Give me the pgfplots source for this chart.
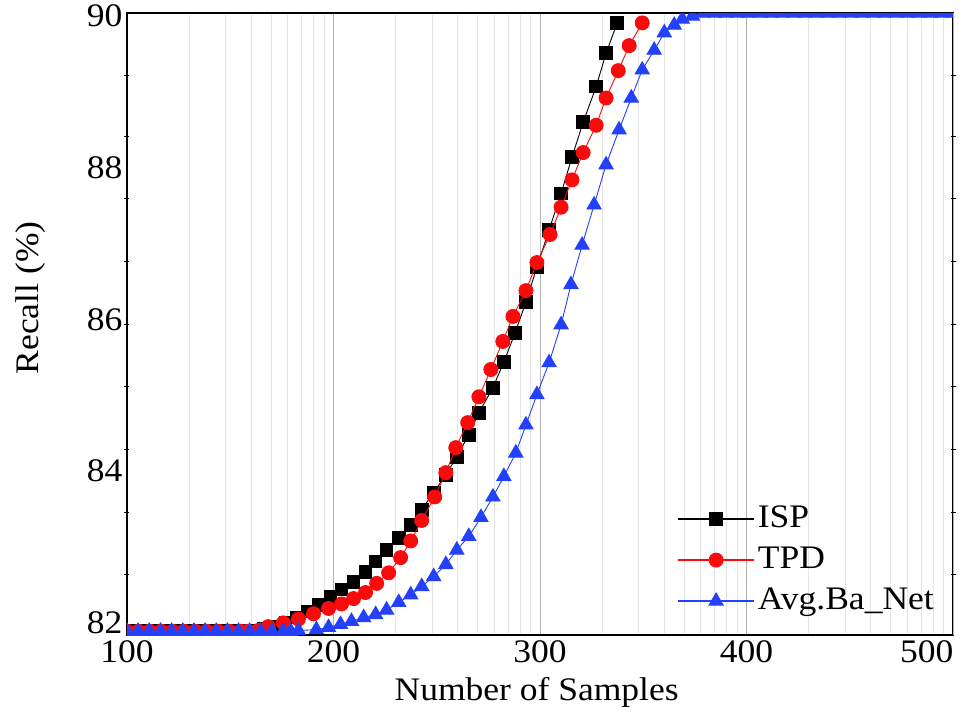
\documentclass[border=0pt]{standalone}
\usepackage{fontspec}
\setmainfont{Liberation Serif}[FakeStretch=1.08]
\usepackage{pgfplots}
\pgfplotsset{compat=1.18}
\usepackage{pgfplotstable}
\newcommand\bigf{\fontsize{33}{38}\selectfont}
\definecolor{myblue}{RGB}{35,65,250}
\definecolor{myred}{RGB}{250,10,10}

\pgfplotstableread{
x y
100 81.85
105.5 81.85
111 81.85
116.5 81.85
122 81.85
127.5 81.85
133 81.85
138.5 81.85
144 81.85
149.5 81.85
155 81.85
160.5 81.86
166 81.88
171.4 81.91
176.7 81.96
182.0 82.03
187.4 82.11
192.7 82.20
198.5 82.31
203.9 82.40
209.7 82.50
215.5 82.63
220.4 82.77
225.7 82.92
231.6 83.08
237.4 83.25
242.7 83.45
248.5 83.68
254.4 83.91
259.7 84.15
265.5 84.44
270.4 84.73
277.2 85.06
282.5 85.40
287.9 85.78
293.2 86.19
298.5 86.65
304.4 87.14
310.2 87.62
315.5 88.10
320.9 88.56
327.2 89.03
332.0 89.47
337.4 89.87
}\isp

\pgfplotstableread{
x y
100 81.85
105.5 81.85
111 81.85
116.5 81.85
122 81.85
127.5 81.85
133 81.85
138.5 81.85
144 81.85
149.5 81.85
155 81.85
158.6 81.85
163.6 81.86
168.4 81.91
175.7 81.96
183.0 82.01
190.3 82.08
197.6 82.15
203.9 82.21
209.7 82.28
215.5 82.36
220.9 82.48
226.7 82.62
232.5 82.82
237.4 83.04
242.7 83.31
249.0 83.62
254.4 83.94
259.2 84.27
265.0 84.60
270.4 84.94
276.2 85.30
282.0 85.67
286.9 86.00
293.2 86.34
298.5 86.71
304.9 87.08
310.2 87.44
315.5 87.80
320.9 88.16
327.2 88.52
332.0 88.88
337.9 89.24
343.2 89.57
349.5 89.87
}\tpd

\pgfplotstableread{
x y
100 81.85
105.4 81.85
110.8 81.85
116.2 81.85
121.6 81.85
127 81.85
132.4 81.85
137.8 81.85
143.2 81.85
148.6 81.85
154 81.85
159.4 81.85
164.8 81.85
170.2 81.85
175.6 81.85
179.3 81.85
183.0 81.86
191.7 81.87
197.6 81.90
203.4 81.94
208.7 81.98
214.6 82.03
220.4 82.07
225.7 82.13
231.6 82.23
237.4 82.33
242.7 82.44
248.5 82.57
254.4 82.73
259.7 82.92
265.5 83.10
271.4 83.35
277.2 83.62
282.5 83.89
288.3 84.20
293.2 84.57
298.5 84.97
304.4 85.39
310.2 85.89
315.0 86.42
320.4 86.94
326.2 87.47
332.0 88.00
338.3 88.46
344.2 88.88
349.5 89.25
355.3 89.51
360.2 89.74
365.0 89.84
368.9 89.92
373.8 89.96
379 90
384.5 90
390 90
395.5 90
401 90
406.5 90
412 90
417.5 90
423 90
428.5 90
434 90
439.5 90
445 90
450.5 90
456 90
461.5 90
467 90
472.5 90
478 90
483.5 90
489 90
494.5 90
500 90
}\avg

\begin{document}
\begin{tikzpicture}
\begin{axis}[
  name=ax,
  at={(0,0)}, anchor=south west,
  scale only axis,
  width=826bp, height=622bp,
  xmin=100, xmax=500, ymin=81.8, ymax=90,
  xtick={100,200,300,400},
  extra x ticks={500},
  extra x tick style={xticklabel style={anchor=north east, xshift=4bp}},
  ytick={82,84,86,88,90},
  minor xtick={130.1,147.7,160.2,169.9,177.8,184.5,190.3,195.4,
               230.1,247.7,260.2,269.9,277.8,284.5,290.3,295.4,
               330.1,347.7,360.2,369.9,377.8,384.5,390.3,395.4,
               430.1,447.7,460.2,469.9,477.8,484.5,490.3,495.4},
  xmajorgrids, xminorgrids,
  major grid style={draw=black!30, line width=1bp},
  minor grid style={draw=black!10, line width=0.8bp},
  major tick length=0pt, minor tick length=0pt,
  extra y ticks={89.18,88.37,87.55,86.72,85.89,85.07,84.24,83.42,82.60},
  extra y tick labels={},
  extra y tick style={major tick length=5bp, tick align=center, tick style={draw=black, line width=1bp}},
  axis line style={line width=1.3bp},
  /pgf/number format/assume math mode=true,
  tick label style={font=\bigf},
  xticklabel style={yshift=-2bp},
  yticklabel style={xshift=-1bp, yshift=-3bp},
  xlabel={Number of Samples},
  ylabel={Recall (\%)},
  label style={font=\bigf},
  xlabel style={at={(axis description cs:0.496,-0.093)}, anchor=center},
  ylabel style={at={(axis description cs:-0.117,0.542)}, anchor=center},
  legend style={at={(rel axis cs:0.666,0.214)}, anchor=north west,
    draw=none, fill=none, inner sep=0pt, font=\bigf, row sep=7bp,
    column sep=2bp,
    nodes={inner sep=1bp, text height=24bp, text depth=8bp},
    cells={anchor=west}},
  legend image code/.code={%
    \draw[mark=none, line width=1.6bp] (0bp,0bp) -- (76bp,0bp);
    \draw plot coordinates {(38bp,0bp)};},
  clip=true,
  clip marker paths=true,
]
\addplot[black, line width=0.9bp, mark=square*, mark size=6.3bp, mark options={fill=black}] table[x=x,y=y] {\isp};
\addlegendentry{ISP}
\addplot[myred, line width=0.9bp, mark=*, mark size=7bp, mark options={fill=myred}] table[x=x,y=y] {\tpd};
\addlegendentry{TPD}
\addplot[myblue, line width=0.9bp, mark=triangle*, mark size=8.2bp, mark options={fill=myblue}] table[x=x,y=y] {\avg};
\addlegendentry{Avg.Ba\_Net}
\end{axis}
\pgfresetboundingbox
\path[use as bounding box] (-127bp,-82bp) rectangle (837bp,635bp);
\end{tikzpicture}
\end{document}
